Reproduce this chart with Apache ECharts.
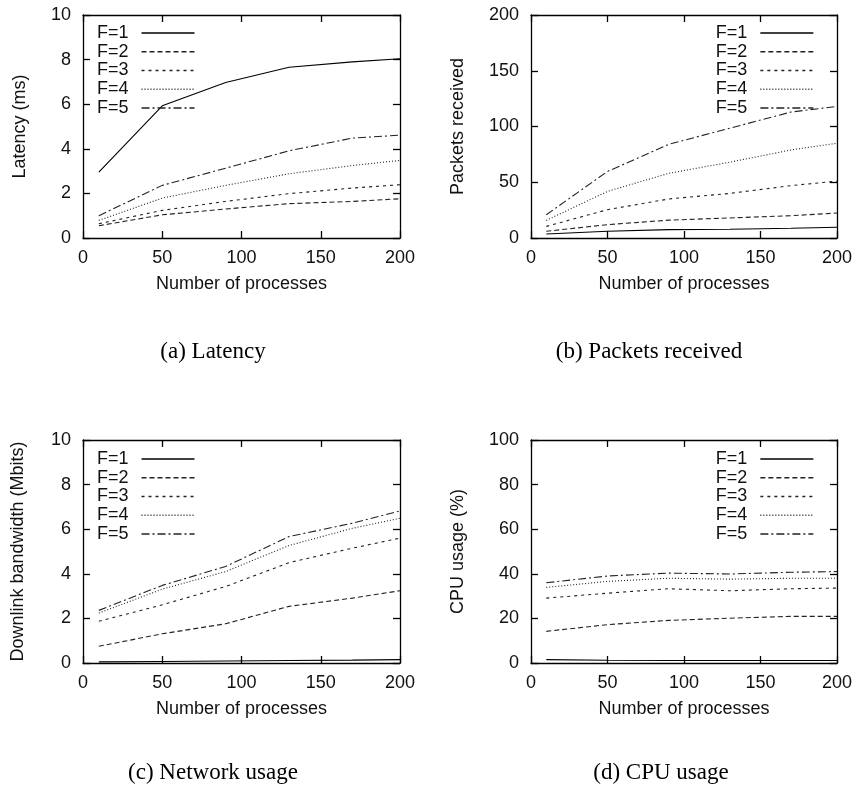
<!DOCTYPE html>
<html>
<head>
<meta charset="utf-8">
<script src="https://cdn.jsdelivr.net/npm/echarts@6/dist/echarts.min.js"></script>
<style>
html,body{margin:0;padding:0;background:#fff;}
#c{width:856px;height:793px;}
</style>
</head>
<body>
<div id="c"></div>
<script>
// x values (number of processes)
const xs = [10, 50, 90, 130, 170, 200];
const seriesNames = ['F=1', 'F=2', 'F=3', 'F=4', 'F=5'];

// (a) Latency (ms)
const latF1 = [2.95, 5.93, 6.97, 7.66, 7.9, 8.04];
const latF2 = [0.55, 1.04, 1.3, 1.54, 1.64, 1.76];
const latF3 = [0.64, 1.24, 1.64, 1.99, 2.24, 2.39];
const latF4 = [0.79, 1.79, 2.36, 2.88, 3.25, 3.48];
const latF5 = [1.0, 2.36, 3.13, 3.91, 4.48, 4.61];

// (b) Packets received
const pktF1 = [3.6, 6, 7.5, 7.8, 8.7, 9.6];
const pktF2 = [6, 12, 16, 18, 20, 22.4];
const pktF3 = [10.4, 25.4, 35, 40, 47, 51];
const pktF4 = [15.8, 41.8, 58, 68, 79, 85];
const pktF5 = [20.9, 59.7, 84, 98.5, 113, 118];

// (c) Downlink bandwidth (Mbits)
const netF1 = [0.05, 0.07, 0.09, 0.11, 0.13, 0.15];
const netF2 = [0.75, 1.31, 1.76, 2.54, 2.91, 3.24];
const netF3 = [1.87, 2.61, 3.43, 4.5, 5.15, 5.6];
const netF4 = [2.24, 3.31, 4.1, 5.27, 6.04, 6.49];
const netF5 = [2.36, 3.48, 4.33, 5.67, 6.27, 6.82];

// (d) CPU usage (%)
const cpuF1 = [1.5, 1.2, 1.1, 1.1, 1.1, 1.1];
const cpuF2 = [14.2, 17.2, 19.1, 20.1, 20.9, 20.9];
const cpuF3 = [29.1, 31.3, 33.3, 32.4, 33.3, 33.6];
const cpuF4 = [33.9, 36.6, 38, 37.6, 38, 38];
const cpuF5 = [36, 39, 40.3, 39.9, 40.7, 41];

const yNames = ['Latency (ms)', 'Packets received', 'Downlink bandwidth (Mbits)', 'CPU usage (%)'];
const yMax = [10, 200, 10, 100];
const yStep = [2, 50, 2, 20];
const xTitle = 'Number of processes';
const captions = ['(a) Latency', '(b) Packets received', '(c) Network usage', '(d) CPU usage'];

const panels = [
  [latF1, latF2, latF3, latF4, latF5],
  [pktF1, pktF2, pktF3, pktF4, pktF5],
  [netF1, netF2, netF3, netF4, netF5],
  [cpuF1, cpuF2, cpuF3, cpuF4, cpuF5]
];

const FONT = 'Liberation Sans, Arial, sans-serif';
const FS = 18;
const grids = [
  {left: 83, top: 15, width: 317, height: 223},
  {left: 531, top: 15, width: 306, height: 223},
  {left: 83, top: 440, width: 317, height: 223},
  {left: 531, top: 440, width: 306, height: 223}
];
const yNameGap = [54, 64, 56, 64];
const dashes = ['solid', [5, 3], [3, 4], [1, 2], [8, 3, 2, 3]];
const lineColors = ['#000', '#222', '#222', '#222', '#222'];

const xAxes = [], yAxes = [], series = [], legends = [];
grids.forEach((g, i) => {
  xAxes.push({
    gridIndex: i, type: 'value', min: 0, max: 200, interval: 50, position: 'bottom',
    name: xTitle, nameLocation: 'middle', nameGap: 37,
    nameTextStyle: {fontFamily: FONT, fontSize: FS, color: '#111'},
    axisLine: {show: true, lineStyle: {color: '#000', width: 1.3}},
    axisTick: {show: true, inside: true, length: 7, lineStyle: {color: '#000', width: 1.3}},
    axisLabel: {fontFamily: FONT, fontSize: FS, color: '#111', margin: 11},
    splitLine: {show: false}
  });
  xAxes.push({
    gridIndex: i, type: 'value', min: 0, max: 200, interval: 50, position: 'top',
    axisLine: {show: true, onZero: false, lineStyle: {color: '#000', width: 1.3}},
    axisTick: {show: true, inside: true, length: 7, lineStyle: {color: '#000', width: 1.3}},
    axisLabel: {show: false}, splitLine: {show: false}
  });
  yAxes.push({
    gridIndex: i, type: 'value', min: 0, max: yMax[i], interval: yStep[i], position: 'left',
    name: yNames[i], nameLocation: 'middle', nameGap: yNameGap[i], nameRotate: 90,
    nameTextStyle: {fontFamily: FONT, fontSize: FS, color: '#111'},
    axisLine: {show: true, lineStyle: {color: '#000', width: 1.3}},
    axisTick: {show: true, inside: true, length: 7, lineStyle: {color: '#000', width: 1.3}},
    axisLabel: {fontFamily: FONT, fontSize: FS, color: '#111', margin: 12},
    splitLine: {show: false}
  });
  yAxes.push({
    gridIndex: i, type: 'value', min: 0, max: yMax[i], interval: yStep[i], position: 'right',
    axisLine: {show: true, onZero: false, lineStyle: {color: '#000', width: 1.3}},
    axisTick: {show: true, inside: true, length: 7, lineStyle: {color: '#000', width: 1.3}},
    axisLabel: {show: false}, splitLine: {show: false}
  });
  panels[i].forEach((vals, k) => {
    series.push({
      type: 'line', name: seriesNames[k], xAxisIndex: i * 2, yAxisIndex: i * 2,
      data: xs.map((x, j) => [x, vals[j]]),
      symbol: 'none', showSymbol: false, animation: false,
      lineStyle: {color: lineColors[k], width: 1.1, type: dashes[k]},
      itemStyle: {color: lineColors[k]}
    });
  });
  const leg = {
    data: seriesNames, orient: 'vertical', align: 'right', padding: 0,
    itemWidth: 53, itemHeight: 12, itemGap: 0.75, selectedMode: false,
    top: (i < 2 ? 24 : 450),
    itemStyle: {opacity: 0},
    lineStyle: {width: 1.3},
    textStyle: {fontFamily: FONT, fontSize: FS, color: '#111', lineHeight: 12, padding: [0, 8, 0, 0]}
  };
  if (i % 2 === 0) leg.left = 97; else leg.right = 42;
  legends.push(leg);
});

const capPos = [[213, 352], [649, 352], [213, 773], [661, 773]];
const graphics = captions.map((t, i) => ({
  type: 'text', x: capPos[i][0], y: capPos[i][1], silent: true,
  style: {text: t, fontFamily: 'Liberation Serif, Times New Roman, serif', fontSize: 23,
          fill: '#000', textAlign: 'center', textVerticalAlign: 'middle'}
}));

const chart = echarts.init(document.getElementById('c'), null, {renderer: 'canvas'});
chart.setOption({
  animation: false,
  backgroundColor: '#fff',
  grid: grids.map(g => Object.assign({show: false}, g)),
  xAxis: xAxes,
  yAxis: yAxes,
  legend: legends,
  series: series,
  graphic: graphics
});
</script>
</body>
</html>
